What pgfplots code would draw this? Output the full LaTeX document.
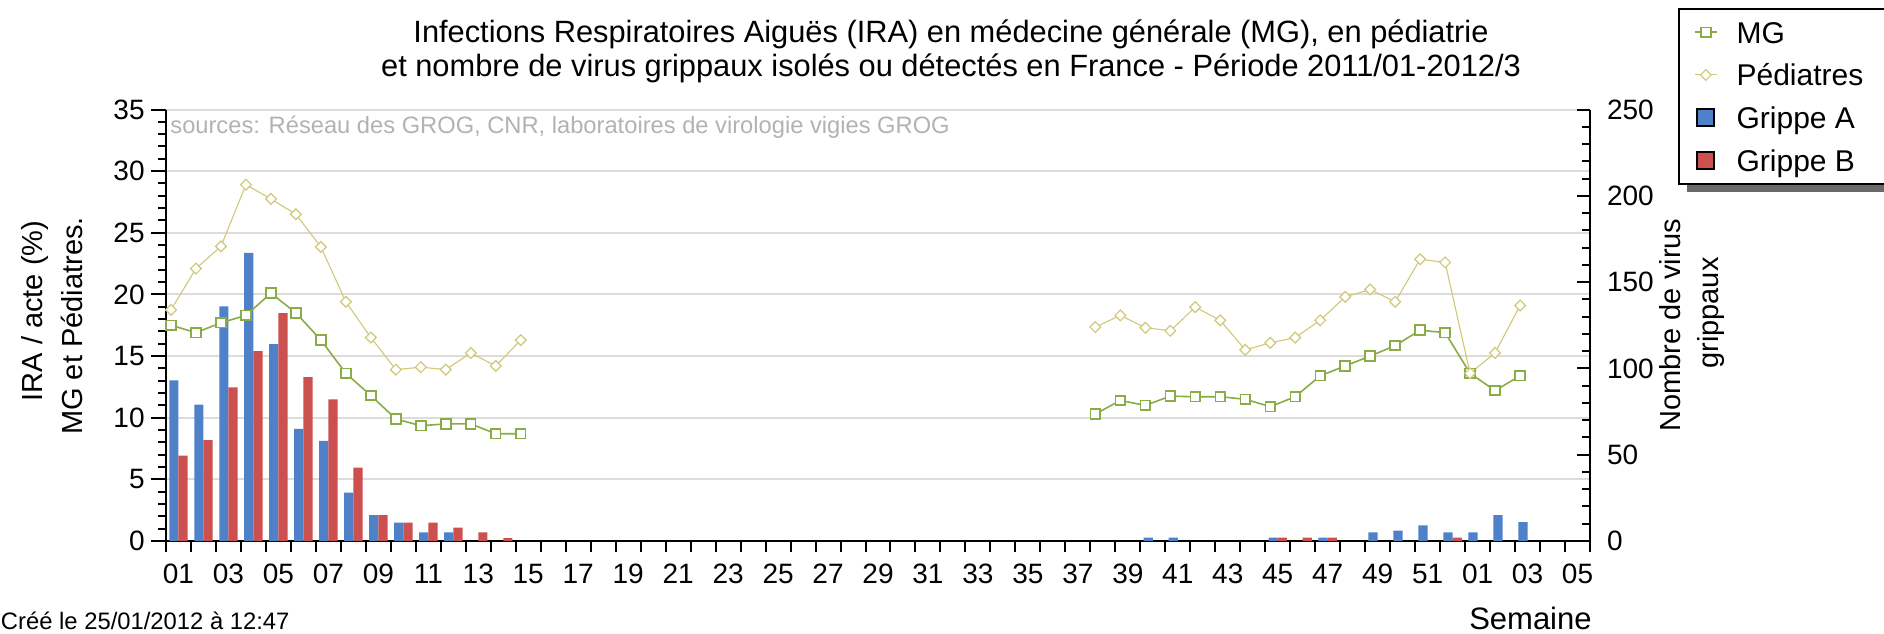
\documentclass[border=0pt]{standalone}
\usepackage{fontspec}
\setmainfont{Liberation Sans}
\usepackage{pgfplots}
\pgfplotsset{compat=1.18}
\definecolor{mgc}{RGB}{138,172,70}
\definecolor{pedc}{RGB}{208,200,120}
\definecolor{gac}{RGB}{79,129,200}
\definecolor{gbc}{RGB}{205,80,80}
\definecolor{gridc}{RGB}{220,220,220}
\definecolor{srcc}{RGB}{178,178,178}
\definecolor{shadc}{RGB}{105,105,105}
\begin{document}
\begin{tikzpicture}
\useasboundingbox (0,0) rectangle (942pt,316.5pt);
% shadow of the legend box (drawn first, behind the legend)
\fill[shadc] (843.5pt,220.5pt) rectangle (980pt,308pt);
\pgfplotsset{
  common/.style={
    scale only axis, width=712pt, height=215.75pt,
    at={(83pt,46pt)}, anchor=south west,
    xmin=0.5, xmax=57.5,
    /pgf/number format/assume math mode=true,
    tick label style={font=\fontsize{14}{16}\selectfont},
    axis line style={line width=1pt, black},
    tick style={line width=1pt, black},
  },
  short line legend/.style={legend image code/.code={\draw[mark repeat=2,mark phase=2,##1] plot coordinates {(0pt,0pt) (5.5pt,0pt) (11pt,0pt)};}},
  box legend/.style={legend image code/.code={\draw[##1, draw=black, line width=0.8pt] (1pt,-4.25pt) rectangle (9.5pt,4.25pt);}},
}
% axis 1: grid, x axis, left axis
\begin{axis}[common, ymin=0, ymax=35,
  axis x line*=bottom, axis y line*=left, tick align=outside,
  xtick={1,3,...,57},
  xticklabels={01,03,05,07,09,11,13,15,17,19,21,23,25,27,29,31,33,35,37,39,41,43,45,47,49,51,01,03,05},
  major x tick style={draw=none},
  minor xtick={0.5,1.5,...,57.5},
  minor x tick style={/pgfplots/minor tick length=5.5pt},
  ytick={0,5,...,35}, minor ytick={0,1,...,35},
  major tick length=7.5pt, minor tick length=4pt,
  ymajorgrids, major grid style={draw=gridc, line width=1pt},
  xticklabel style={inner sep=0pt, anchor=base, yshift=-13.5pt},
  yticklabel style={inner sep=0pt, anchor=east, xshift=-3pt},
]
\addplot[draw=none] coordinates {(1,0)};
\end{axis}
% axis 2: bars, right axis
\begin{axis}[common, ymin=0, ymax=250,
  axis y line*=right, axis x line=none, tick align=inside,
  ytick={0,50,...,250}, minor ytick={0,10,...,250},
  major tick length=6.5pt, minor tick length=4pt,
  yticklabel style={inner sep=0pt, anchor=west, xshift=8.3pt},
]
\addplot[ybar, bar width=4.6pt, bar shift=-2.3pt, fill=gac, draw=none] coordinates {
(1,93) (2,79) (3,136) (4,167) (5,114) (6,65) (7,58) (8,28) (9,15) (10,10.6) (11,5) (12,5)
(40,2) (41,2) (45,2) (47,2) (49,5) (50,6) (51,9) (52,5) (53,5) (54,15) (55,11)};
\addplot[ybar, bar width=4.6pt, bar shift=2.3pt, fill=gbc, draw=none] coordinates {
(1,49.5) (2,58.5) (3,89) (4,110) (5,132) (6,95) (7,82) (8,42.5) (9,15) (10,10.6) (11,10.6) (12,7.7) (13,5) (14,1.7)
(45,2) (46,2) (47,2) (52,2)};
\end{axis}
% axis 3: lines and legend
\begin{axis}[common, ymin=0, ymax=35, hide axis, unbounded coords=jump,
  legend style={at={(1.0618,1.2352)}, anchor=north west, draw=black, line width=1pt, fill=white,
    inner xsep=7.5pt, inner ysep=4pt, row sep=6.15pt, column sep=9.5pt,
    font=\fontsize{15}{18}\selectfont,
    nodes={inner sep=0pt, text height=13pt, text depth=2.2pt}},
  legend cell align=left,
]
\addplot[mgc, line width=0.8pt, mark=square*, mark size=2.4pt,
  mark options={fill=white, line width=0.9pt, solid}, short line legend] coordinates {
(0.7,17.5) (1.7,16.9) (2.7,17.7) (3.7,18.3) (4.7,20.1) (5.7,18.5) (6.7,16.3) (7.7,13.6)
(8.7,11.8) (9.7,9.9) (10.7,9.35) (11.7,9.5) (12.7,9.5) (13.7,8.7) (14.7,8.7) (20,nan)
(37.7,10.3) (38.7,11.4) (39.7,11.0) (40.7,11.75) (41.7,11.7) (42.7,11.7) (43.7,11.5)
(44.7,10.9) (45.7,11.7) (46.7,13.4) (47.7,14.2) (48.7,15.0) (49.7,15.85) (50.7,17.1)
(51.7,16.9) (52.7,13.6) (53.7,12.2) (54.7,13.4)};
\addlegendentry{MG}
\addplot[pedc, line width=0.55pt, mark=square*, mark size=1.9pt,
  mark options={fill=white, line width=0.6pt, rotate=45, solid}, short line legend] coordinates {
(0.7,18.75) (1.7,22.1) (2.7,23.9) (3.7,28.9) (4.7,27.75) (5.7,26.5) (6.7,23.85) (7.7,19.4)
(8.7,16.5) (9.7,13.9) (10.7,14.1) (11.7,13.9) (12.7,15.25) (13.7,14.2) (14.7,16.3) (20,nan)
(37.7,17.35) (38.7,18.3) (39.7,17.3) (40.7,17.05) (41.7,18.97) (42.7,17.9) (43.7,15.5)
(44.7,16.07) (45.7,16.5) (46.7,17.9) (47.7,19.8) (48.7,20.4) (49.7,19.4) (50.7,22.85)
(51.7,22.6) (52.7,13.6) (53.7,15.26) (54.7,19.1)};
\addlegendentry{Pédiatres\hspace*{30pt}}
\addlegendimage{box legend, fill=gac}
\addlegendentry{Grippe A}
\addlegendimage{box legend, fill=gbc}
\addlegendentry{Grippe B}
\end{axis}
% texts
\node[anchor=base, inner sep=0pt, font=\fontsize{15.4}{18}\selectfont] at (475.5pt,295pt)
  {Infections Respiratoires Aiguës (IRA) en médecine générale (MG), en pédiatrie};
\node[anchor=base, inner sep=0pt, font=\fontsize{15.4}{18}\selectfont] at (475.5pt,278pt)
  {et nombre de virus grippaux isolés ou détectés en France - Période 2011/01-2012/3};
\node[anchor=base west, inner sep=0pt, text=srcc, font=\fontsize{11.85}{14}\selectfont] at (85pt,249.5pt)
  {sources: Réseau des GROG, CNR, laboratoires de virologie vigies GROG};
\node[rotate=90, anchor=base, inner sep=0pt, font=\fontsize{14.5}{17}\selectfont] at (21pt,161pt) {IRA / acte (\%)};
\node[rotate=90, anchor=base, inner sep=0pt, font=\fontsize{14.5}{17}\selectfont] at (41pt,153.5pt) {MG et Pédiatres.};
\node[rotate=90, anchor=base, inner sep=0pt, font=\fontsize{14.5}{17}\selectfont] at (840pt,154pt) {Nombre de virus};
\node[rotate=90, anchor=base, inner sep=0pt, font=\fontsize{14.5}{17}\selectfont] at (859pt,160pt) {grippaux};
\node[anchor=base east, inner sep=0pt, font=\fontsize{15.5}{18}\selectfont] at (796pt,2pt) {Semaine};
\node[anchor=base west, inner sep=0pt, font=\fontsize{11.9}{14}\selectfont] at (0.3pt,2pt) {Créé le 25/01/2012 à 12:47};
\end{tikzpicture}
\end{document}
